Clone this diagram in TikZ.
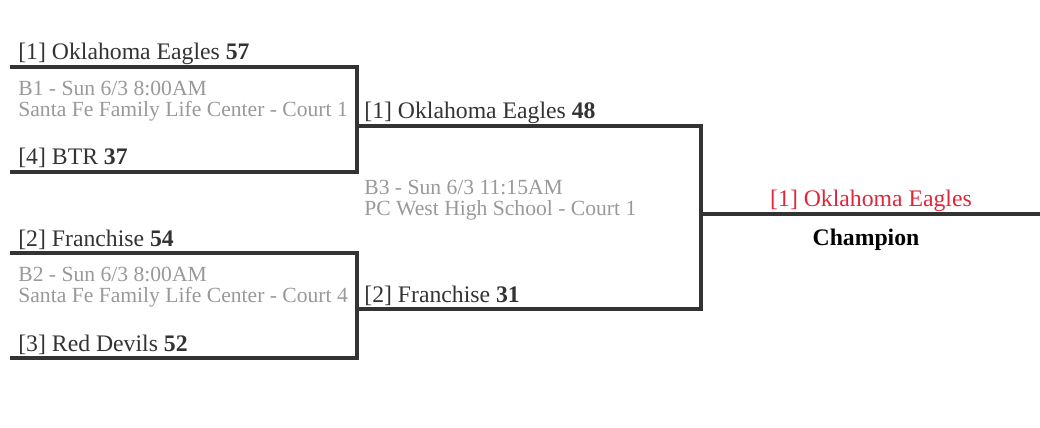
\documentclass[tikz,border=0pt]{standalone}
\usepackage{fontspec}
\setmainfont{Liberation Serif}
\usetikzlibrary{positioning}
\definecolor{bline}{HTML}{333333}
\definecolor{info}{HTML}{999999}
\definecolor{winred}{HTML}{E0263A}
\tikzset{
    team/.style = {anchor=base west, inner sep=0pt, font=\fontsize{13.5pt}{15pt}\selectfont, text=bline},
    game/.style = {anchor=north west, inner sep=0pt, align=left, font=\fontsize{12.3pt}{12pt}\selectfont, text=info},
    wire/.style = {draw=bline, line width=2pt}
}
\begin{document}
\begin{tikzpicture}[x=0.02cm, y=-0.02cm]
    \useasboundingbox (0,0) rectangle (1040,428);
    % round 1
    \coordinate (t1) at (10,67);
    \coordinate (t4) at (10,172);
    \coordinate (t2) at (10,253);
    \coordinate (t3) at (10,358);
    \coordinate (g1a) at (357,67);
    \coordinate (g1b) at (357,172);
    \coordinate (g2a) at (357,253);
    \coordinate (g2b) at (357,358);
    \draw [wire] (t1) -- (g1a) -- (g1b) -- (t4);
    \draw [wire] (t2) -- (g2a) -- (g2b) -- (t3);
    \node [team] (n1) at (18,60) {[1] Oklahoma Eagles \textbf{57}};
    \node [team] (n4) at (18,165) {[4] BTR \textbf{37}};
    \node [team] (n2) at (18,247) {[2] Franchise \textbf{54}};
    \node [team] (n3) at (18,352) {[3] Red Devils \textbf{52}};
    \node [game] (b1) at (18,81) {B1 - Sun 6/3 8:00AM\\Santa Fe Family Life Center - Court 1};
    \node [game] (b2) at (18,267) {B2 - Sun 6/3 8:00AM\\Santa Fe Family Life Center - Court 4};
    % round 2
    \coordinate (s1) at (357,126);
    \coordinate (s2) at (357,309);
    \coordinate (g3a) at (701,126);
    \coordinate (g3b) at (701,309);
    \draw [wire] (s1) -- (g3a) -- (g3b) -- (s2);
    \node [team] (m1) at (364,119) {[1] Oklahoma Eagles \textbf{48}};
    \node [team] (m2) at (364,303) {[2] Franchise \textbf{31}};
    \node [game] (b3) at (364,180) {B3 - Sun 6/3 11:15AM\\PC West High School - Court 1};
    % final
    \coordinate (f1) at (701,214);
    \coordinate (f2) at (1040,214);
    \draw [wire] (f1) -- (f2);
    \node [team, anchor=base, text=winred] (win) at (871,207) {[1] Oklahoma Eagles};
    \node [team, anchor=base, text=black, font=\bfseries\fontsize{13.5pt}{15pt}\selectfont] (champ) at (866,246) {Champion};
\end{tikzpicture}
\end{document}
